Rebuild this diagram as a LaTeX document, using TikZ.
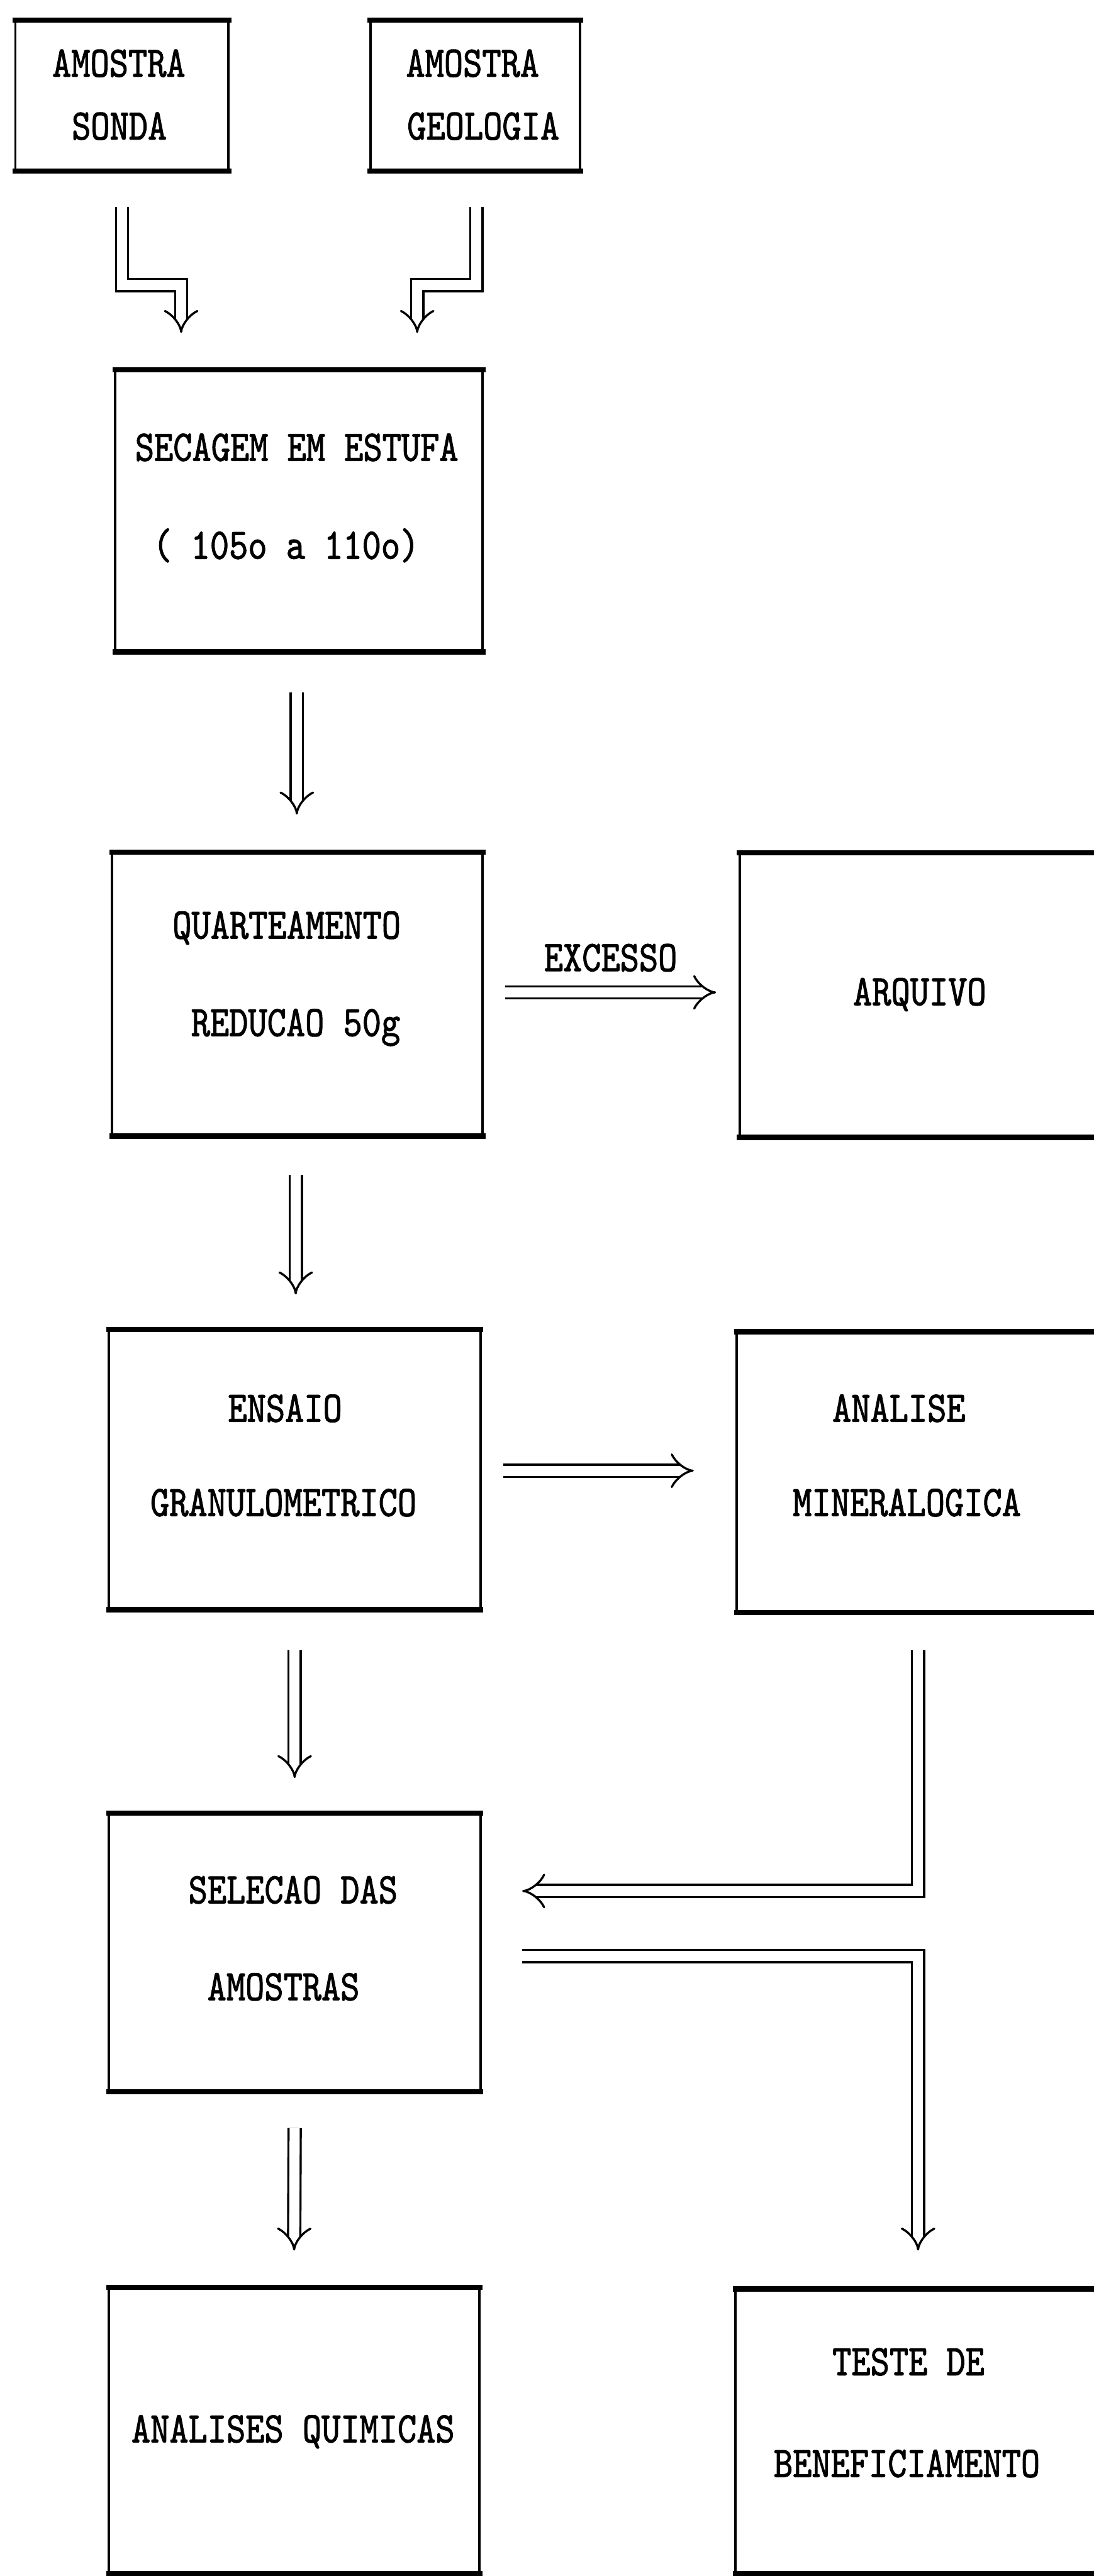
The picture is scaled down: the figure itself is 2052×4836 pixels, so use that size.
\documentclass[tikz,border=0pt]{standalone}
\usepackage{fontspec}
\newfontfamily\dotfont[Extension=.otf, FakeStretch=0.83, FakeBold=1.5]{lmmono10-regular}
\usetikzlibrary{arrows.meta}
\newcommand\boxframeall[1]{%
  \draw[hl] (#1.north west) -- (#1.north east);
  \draw[hl] (#1.south west) -- (#1.south east);
  \draw[vl] (#1.north west) -- (#1.south west);
  \draw[vl] (#1.north east) -- (#1.south east);}
\newcommand\boxframeopen[1]{%
  \draw[hl] (#1.north west) -- (#1.north east);
  \draw[hl] (#1.south west) -- (#1.south east);
  \draw[vl] (#1.north west) -- (#1.south west);}
\begin{document}
\begin{tikzpicture}[x=0.1mm,y=-0.1mm,
  boxnode/.style={draw=none, inner sep=0pt, outer sep=0pt},
  hl/.style={line width=1mm, line cap=rect},
  vl/.style={line width=0.45mm},
  dbl/.style={double, line width=0.4mm, double distance=1.9mm, -{Implies}},
  lbl/.style={font={\dotfont\fontsize{23.3pt}{28pt}\selectfont}, inner sep=0pt, text height=5mm, text depth=0mm}]
\useasboundingbox (0,0) rectangle (2052,4836);
\fill[white] (0,0) rectangle (2052,4836);

% boxes
\node[boxnode, minimum width=40mm,   minimum height=28.3mm] (sonda) at (229,179.5) {};
\node[boxnode, minimum width=39.4mm, minimum height=28.3mm] (geol)  at (892,179.5) {};
\node[boxnode, minimum width=69mm,   minimum height=53mm]   (sec)   at (561,959) {};
\node[boxnode, minimum width=69.6mm, minimum height=53.3mm] (quart) at (558,1866.5) {};
\node[boxnode, minimum width=71.2mm, minimum height=53.4mm] (arq)   at (1744,1868) {};
\node[boxnode, minimum width=69.8mm, minimum height=52.6mm] (ensaio) at (553,2759) {};
\node[boxnode, minimum width=71.7mm, minimum height=52.7mm] (anal)  at (1741.5,2763.5) {};
\node[boxnode, minimum width=69.8mm, minimum height=52.3mm] (sel)   at (553,3665.5) {};
\node[boxnode, minimum width=69.6mm, minimum height=53.7mm] (quim)  at (552,4562.5) {};
\node[boxnode, minimum width=72mm,   minimum height=53.4mm] (teste) at (1740,4564) {};

\boxframeall{sonda}
\boxframeall{geol}
\boxframeall{sec}
\boxframeall{quart}
\boxframeopen{arq}
\boxframeall{ensaio}
\boxframeopen{anal}
\boxframeall{sel}
\boxframeall{quim}
\boxframeopen{teste}

% labels
\node[lbl] (t1a) at (223,119) {AMOSTRA};
\node[lbl] (t1b) at (224,237) {SONDA};
\node[lbl] (t2a) at (887,119) {AMOSTRA};
\node[lbl] (t2b) at (907,237) {GEOLOGIA};
\node[lbl] (t3a) at (557,840) {SECAGEM EM ESTUFA};
\node[lbl] (t3b) at (537,1024) {( 105o a 110o)};
\node[lbl] (t4a) at (538,1737) {QUARTEAMENTO};
\node[lbl] (t4b) at (555,1920) {REDUCAO 50g};
\node[lbl] (t5)  at (1726,1862) {ARQUIVO};
\node[lbl] (t6a) at (535,2644) {ENSAIO};
\node[lbl] (t6b) at (532,2821) {GRANULOMETRICO};
\node[lbl] (t7a) at (1687,2644) {ANALISE};
\node[lbl] (t7b) at (1702,2821) {MINERALOGICA};
\node[lbl] (t8a) at (550,3548) {SELECAO DAS};
\node[lbl] (t8b) at (532,3730) {AMOSTRAS};
\node[lbl] (t9)  at (550,4560) {ANALISES QUIMICAS};
\node[lbl] (t10a) at (1705,4434) {TESTE DE};
\node[lbl] (t10b) at (1702,4625) {BENEFICIAMENTO};

% connectors
\draw[dbl] ([yshift=-6.7mm]sonda.south) |- ([xshift=-22.1mm,yshift=15.9mm]sec.north)
  -- ([xshift=-22.1mm,yshift=6.9mm]sec.north);
\draw[dbl] ([xshift=0.2mm,yshift=-6.7mm]geol.south) |- ([xshift=22.2mm,yshift=15.9mm]sec.north)
  -- ([xshift=22.2mm,yshift=6.9mm]sec.north);
\draw[dbl] ([xshift=-0.4mm,yshift=-7.6mm]sec.south) -- ([xshift=-0.4mm,yshift=7.1mm]sec.south |- quart.north);
\draw[dbl] ([xshift=4.2mm,yshift=0.35mm]quart.east) -- ([xshift=-4.4mm,yshift=0.35mm]quart.east -| arq.west)
  node[lbl, midway, yshift=6.5mm] (exc) {EXCESSO};
\draw[dbl] ([xshift=-0.3mm,yshift=-7.2mm]quart.south) -- ([xshift=-0.3mm,yshift=6.6mm]quart.south |- ensaio.north);
\draw[dbl] ([xshift=4.2mm,yshift=-0.2mm]ensaio.east) -- ([xshift=-8.1mm,yshift=-0.2mm]ensaio.east -| anal.west);
\draw[dbl] ([yshift=-7.6mm]ensaio.south) -- ([yshift=6.6mm]sel.north);
\draw[dbl] ([xshift=-1.85mm,yshift=-7.1mm]anal.south) |- ([xshift=7.8mm,yshift=11.55mm]sel.east);
\draw[dbl] ([xshift=7.8mm,yshift=-0.65mm]sel.east) -| ([xshift=-1.7mm,yshift=7.2mm]teste.north);
\draw[dbl] ([yshift=-6.8mm]sel.south) -- ([yshift=6.9mm]quim.north);
\end{tikzpicture}
\end{document}
